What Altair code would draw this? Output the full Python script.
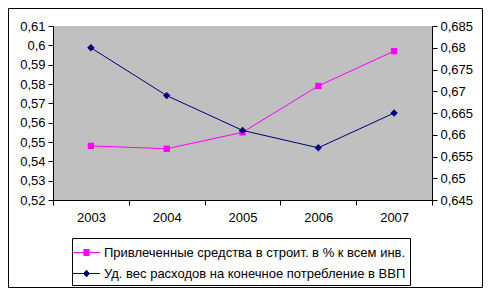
import altair as alt
import pandas as pd

years = ["2003", "2004", "2005", "2006", "2007"]
attracted = [0.548, 0.5465, 0.555, 0.579, 0.597]
consumption = [0.680, 0.669, 0.661, 0.657, 0.665]
s1 = "Привлеченные средства в строит. в % к всем инв."
s2 = "Уд. вес расходов на конечное потребление в ВВП"
left_ticks = [0.52, 0.53, 0.54, 0.55, 0.56, 0.57, 0.58, 0.59, 0.60, 0.61]
right_ticks = [0.645, 0.65, 0.655, 0.66, 0.665, 0.67, 0.675, 0.68, 0.685]

FONT = "Liberation Sans"
MAGENTA = "#FF00FF"
NAVY = "#000080"

df1 = pd.DataFrame({"year": years, "value": attracted, "series": s1})
df2 = pd.DataFrame({"year": years, "value": consumption, "series": s2})

x = alt.X("year:O", title=None, sort=years,
          scale=alt.Scale(paddingInner=0, paddingOuter=0),
          axis=alt.Axis(tickBand="extent", labelAngle=0, domainColor="black",
                        tickColor="black", tickSize=5, labelFontSize=13,
                        labelColor="black", labelPadding=6, labelFont=FONT))

# legend glyphs: a line through a solid marker (marker built from stroked rows)
step = 0.105
sq_rows = "".join(f"M-0.32,{k*step:.3f}H0.32" for k in range(-3, 4))
sq_path = "M-1.42,0H1.42" + sq_rows
dm_rows = "".join(
    f"M{-0.36*(1-abs(k*step)/0.4):.3f},{k*step:.3f}H{0.36*(1-abs(k*step)/0.4):.3f}"
    for k in range(-3, 4))
dm_path = "M-1.42,0H1.42" + dm_rows

leg = alt.Legend(title=None, orient="none", legendX=19, legendY=212,
                 direction="vertical", strokeColor="black", fillColor="white",
                 padding=4, labelFontSize=13, labelFont=FONT, labelColor="black",
                 labelOffset=7, rowPadding=3, symbolSize=361, symbolStrokeWidth=1.2,
                 symbolOpacity=1, labelLimit=0)

yl = alt.Y("value:Q", title=None,
           scale=alt.Scale(domain=[0.52, 0.61], nice=False, zero=False),
           axis=alt.Axis(orient="left", values=left_ticks, grid=False, domainColor="black",
                         tickColor="black", tickSize=5, labelFontSize=13, labelColor="black",
                         labelFont=FONT, labelPadding=3,
                         labelExpr="replace(format(datum.value, '.2~f'), '.', ',')"))
yr = alt.Y("value:Q", title=None,
           scale=alt.Scale(domain=[0.645, 0.685], nice=False, zero=False),
           axis=alt.Axis(orient="right", values=right_ticks, grid=False, domainColor="black",
                         tickColor="black", tickSize=5, labelFontSize=13, labelColor="black",
                         labelFont=FONT, labelPadding=3,
                         labelExpr="replace(format(datum.value, '.3~f'), '.', ',')"))

dfl = pd.concat([df1, df2])
legend_layer = alt.Chart(dfl).mark_point(filled=False, opacity=0).encode(
    x=x, y=yl,
    color=alt.Color("series:N", scale=alt.Scale(domain=[s1, s2], range=[MAGENTA, NAVY]), legend=leg),
    shape=alt.Shape("series:N", scale=alt.Scale(domain=[s1, s2], range=[sq_path, dm_path]), legend=leg),
)

line1 = alt.Chart(df1).mark_line(strokeWidth=1, color=MAGENTA).encode(x=x, y=yl)
pts1 = alt.Chart(df1).mark_point(shape="square", filled=True, size=40, color=MAGENTA, opacity=1).encode(x=x, y=yl)
line2 = alt.Chart(df2).mark_line(strokeWidth=1, color=NAVY).encode(x=x, y=yr)
pts2 = alt.Chart(df2).mark_point(shape="diamond", filled=True, size=55, color=NAVY, opacity=1).encode(x=x, y=yr)

left = alt.layer(legend_layer, line1, pts1)
right = alt.layer(line2, pts2)

border = alt.Chart(pd.DataFrame({"a": [0]})).mark_rect(
    fill=None, stroke="black", strokeWidth=1).encode(
    x=alt.value(-44.5), x2=alt.value(429.5), y=alt.value(-17.5), y2=alt.value(261.5))

chart = alt.layer(left, right, border).resolve_scale(y="independent").properties(
    width=379, height=174,
    autosize=alt.AutoSizeParams(type="none"),
    padding={"left": 45, "top": 18, "right": 51, "bottom": 88},
    background="white",
).configure_view(fill="#C0C0C0", stroke=None)

chart.save("out.html", embed_options={"renderer": "svg", "actions": False})
